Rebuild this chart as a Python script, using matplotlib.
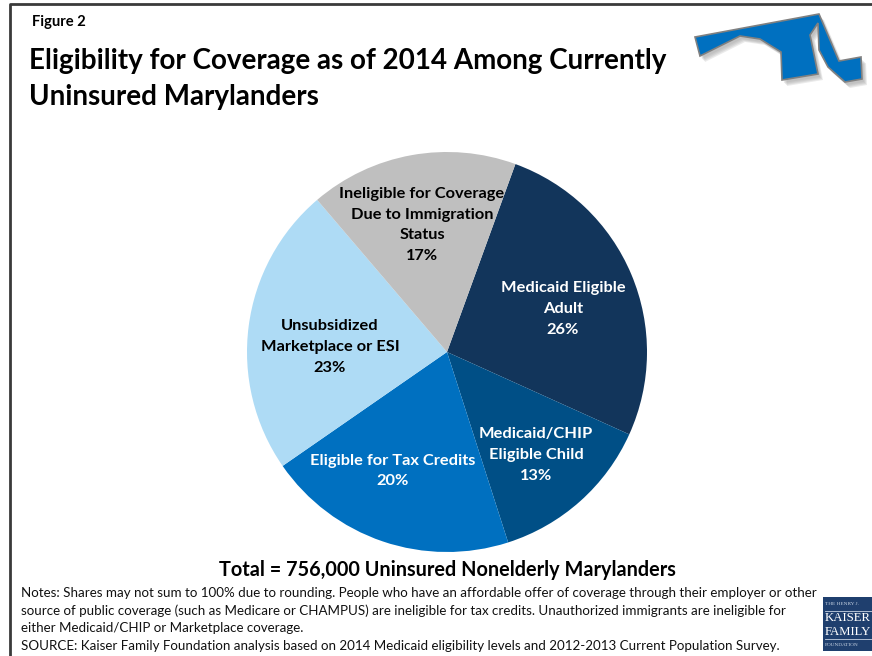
import matplotlib
matplotlib.use("Agg")
import matplotlib.pyplot as plt
from matplotlib.patches import Polygon, Rectangle

plt.rcParams['font.family'] = ['Lato', 'DejaVu Sans']

# shares, a bit off the printed rounded numbers since the original wedges don't sum to 99
shares = [26.2, 13.3, 20.3, 23.4, 16.8]
colors = ["#12355b", "#004f86", "#0070c0", "#aedbf5", "#bfbfbf"]
labels = ["Medicaid Eligible\nAdult\n26%",
          "Medicaid/CHIP\nEligible Child\n13%",
          "Eligible for Tax Credits\n20%",
          "Unsubsidized\nMarketplace or ESI\n23%",
          "Ineligible for Coverage\nDue to Immigration\nStatus\n17%"]
label_colors = ["white", "white", "white", "black", "black"]
label_xy = [(563, 309), (536, 455), (393, 471), (330, 347), (422, 225)]

title = "Eligibility for Coverage as of 2014 Among Currently\nUninsured Marylanders"
total = "Total = 756,000 Uninsured Nonelderly Marylanders"
notes = ["Notes: Shares may not sum to 100% due to rounding. People who have an affordable offer of coverage through their employer or other",
         "source of public coverage (such as Medicare or CHAMPUS) are ineligible for tax credits. Unauthorized immigrants are ineligible for",
         "either Medicaid/CHIP or Marketplace coverage.",
         "SOURCE: Kaiser Family Foundation analysis based on 2014 Medicaid eligibility levels and 2012-2013 Current Population Survey."]
notes_y = [593, 611, 628, 646]

W, H = 872, 656
fig = plt.figure(figsize=(W / 100, H / 100), dpi=100)
bg = fig.add_axes([0, 0, 1, 1])
bg.set_xlim(0, W)
bg.set_ylim(H, 0)
bg.axis("off")

# frame
bg.plot([10, 10, W], [H, 4, 4], color="#3a3a3a", lw=2, solid_capstyle="butt")

bg.text(32, 22, "Figure 2", fontsize=10.6, fontweight="bold", va="center")
bg.text(29, 79, title, fontsize=20, fontweight="bold", va="center", linespacing=1.45)

# pie
cx, cy, r = 447, 352, 200
ax = fig.add_axes([(cx - r) / W, 1 - (cy + r) / H, 2 * r / W, 2 * r / H])
ax.pie(shares, colors=colors, startangle=70, counterclock=False, radius=1,
       wedgeprops={"linewidth": 0})
ax.set_xlim(-1, 1)
ax.set_ylim(-1, 1)

# labels go on top of the pie
top = fig.add_axes([0, 0, 1, 1], facecolor="none")
top.set_xlim(0, W)
top.set_ylim(H, 0)
top.axis("off")
for lab, col, (x, y) in zip(labels, label_colors, label_xy):
    top.text(x, y, lab, color=col, fontsize=11.8, fontweight="bold", ha="center", va="center", linespacing=1.6)

top.text(447, 570, total, fontsize=14.3, fontweight="bold", ha="center", va="center")
for line, y in zip(notes, notes_y):
    top.text(21, y, line, fontsize=9.68, va="center", color="#111111")

# Maryland shape
md = [(695, 37), (819, 14), (839, 61), (861, 57), (862, 79), (845, 82), (828, 67), (819, 50), (818, 23),
      (810, 35), (818, 74), (782, 80), (781, 52), (760, 39), (740, 36), (700, 56)]
# rough soft shadow, a few stacked offsets
for dx, dy in [(5, 6), (4, 5), (3, 4), (2, 3)]:
    top.add_patch(Polygon([(x + dx, y + dy) for x, y in md], closed=True, fc="#999999", ec="none", alpha=0.2))
top.add_patch(Polygon(md, closed=True, fc="#0070c0", ec="#808080", lw=1.2))

# logo
top.add_patch(Rectangle((823, 597), 49, 54, fc="#1f3f6e", ec="none"))
top.plot([825, W], [611, 611], color="#c8d4e4", lw=0.6)
top.plot([825, W], [639, 639], color="#c8d4e4", lw=0.6)
top.text(825, 604, "THE HENRY J.", color="#c8d4e4", fontsize=3.8, family="Liberation Serif", va="center")
top.text(825, 618, "KAISER", color="white", fontsize=9.2, family="Liberation Serif", va="center")
top.text(825, 632, "FAMILY", color="white", fontsize=9.2, family="Liberation Serif", va="center")
top.text(825, 645, "FOUNDATION", color="#c8d4e4", fontsize=3.8, family="Liberation Serif", va="center")

fig.savefig("out.png", dpi=100)
